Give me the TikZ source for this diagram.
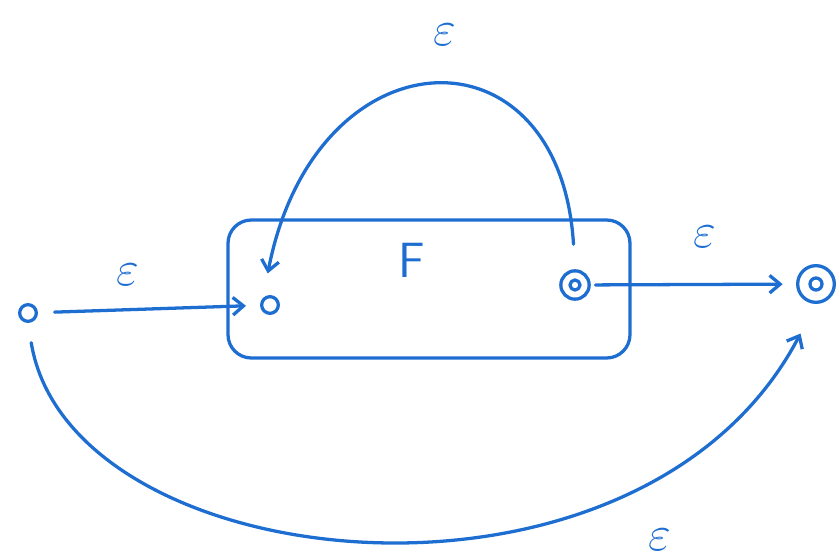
\documentclass[tikz,border=0pt]{standalone}
\usetikzlibrary{arrows.meta}
\definecolor{pen}{RGB}{30,110,210}
\newcommand{\scl}{0.03}
\tikzset{
  ink/.style={draw=pen, line width=2.8pt, line cap=round, line join=round},
  state/.style={ink, circle, minimum size=0.5cm, inner sep=0pt},
  accept/.style={state, minimum size=0.85cm},
  lbl/.style={text=pen, font=\Huge, scale=1.7, inner sep=0pt}
}

\begin{document}
\begin{tikzpicture}[x=\scl cm,y=-\scl cm,>={Straight Barb[length=9pt,width=15pt]}]
  \useasboundingbox (0,0) rectangle (839,559);
  % machine F
  \draw[ink, rounded corners=0.7cm] (228,220) rectangle (630,358);
  \node[lbl,font=\Huge\sffamily] (F) at (412,260) {F};
%
  \node[state]  (s0)  at (28,313)  {};
  \node[state]  (i0)  at (270,305) {};
  \node[accept] (f0)  at (575,285) {};
  \node[accept,minimum size=1.1cm] (fin) at (816,284) {};
  \draw[ink] (f0) circle [radius=0.15cm];
  \draw[ink] (fin) circle [radius=0.18cm];
%
  \draw[ink,->,shorten <=0.5cm,shorten >=12pt] (s0) -- (i0);
  \draw[ink,->,shorten <=4pt,shorten >=0.4cm] (f0) -- (fin);
  \draw[ink,->,shorten <=0.75cm,shorten >=0.75cm]
    (f0.north) .. controls (560,20) and (315,30) .. (i0.north west);
  \draw[ink,->,shorten <=0.6cm,shorten >=1cm]
    (s0.south) .. controls (70,580) and (640,640) .. (fin.south);
%
  \node[lbl] (e1) at (128,275) {$\varepsilon$};
  \node[lbl] (e2) at (445,35)  {$\varepsilon$};
  \node[lbl] (e3) at (705,237) {$\varepsilon$};
  \node[lbl] (e4) at (660,540) {$\varepsilon$};
\end{tikzpicture}
\end{document}
